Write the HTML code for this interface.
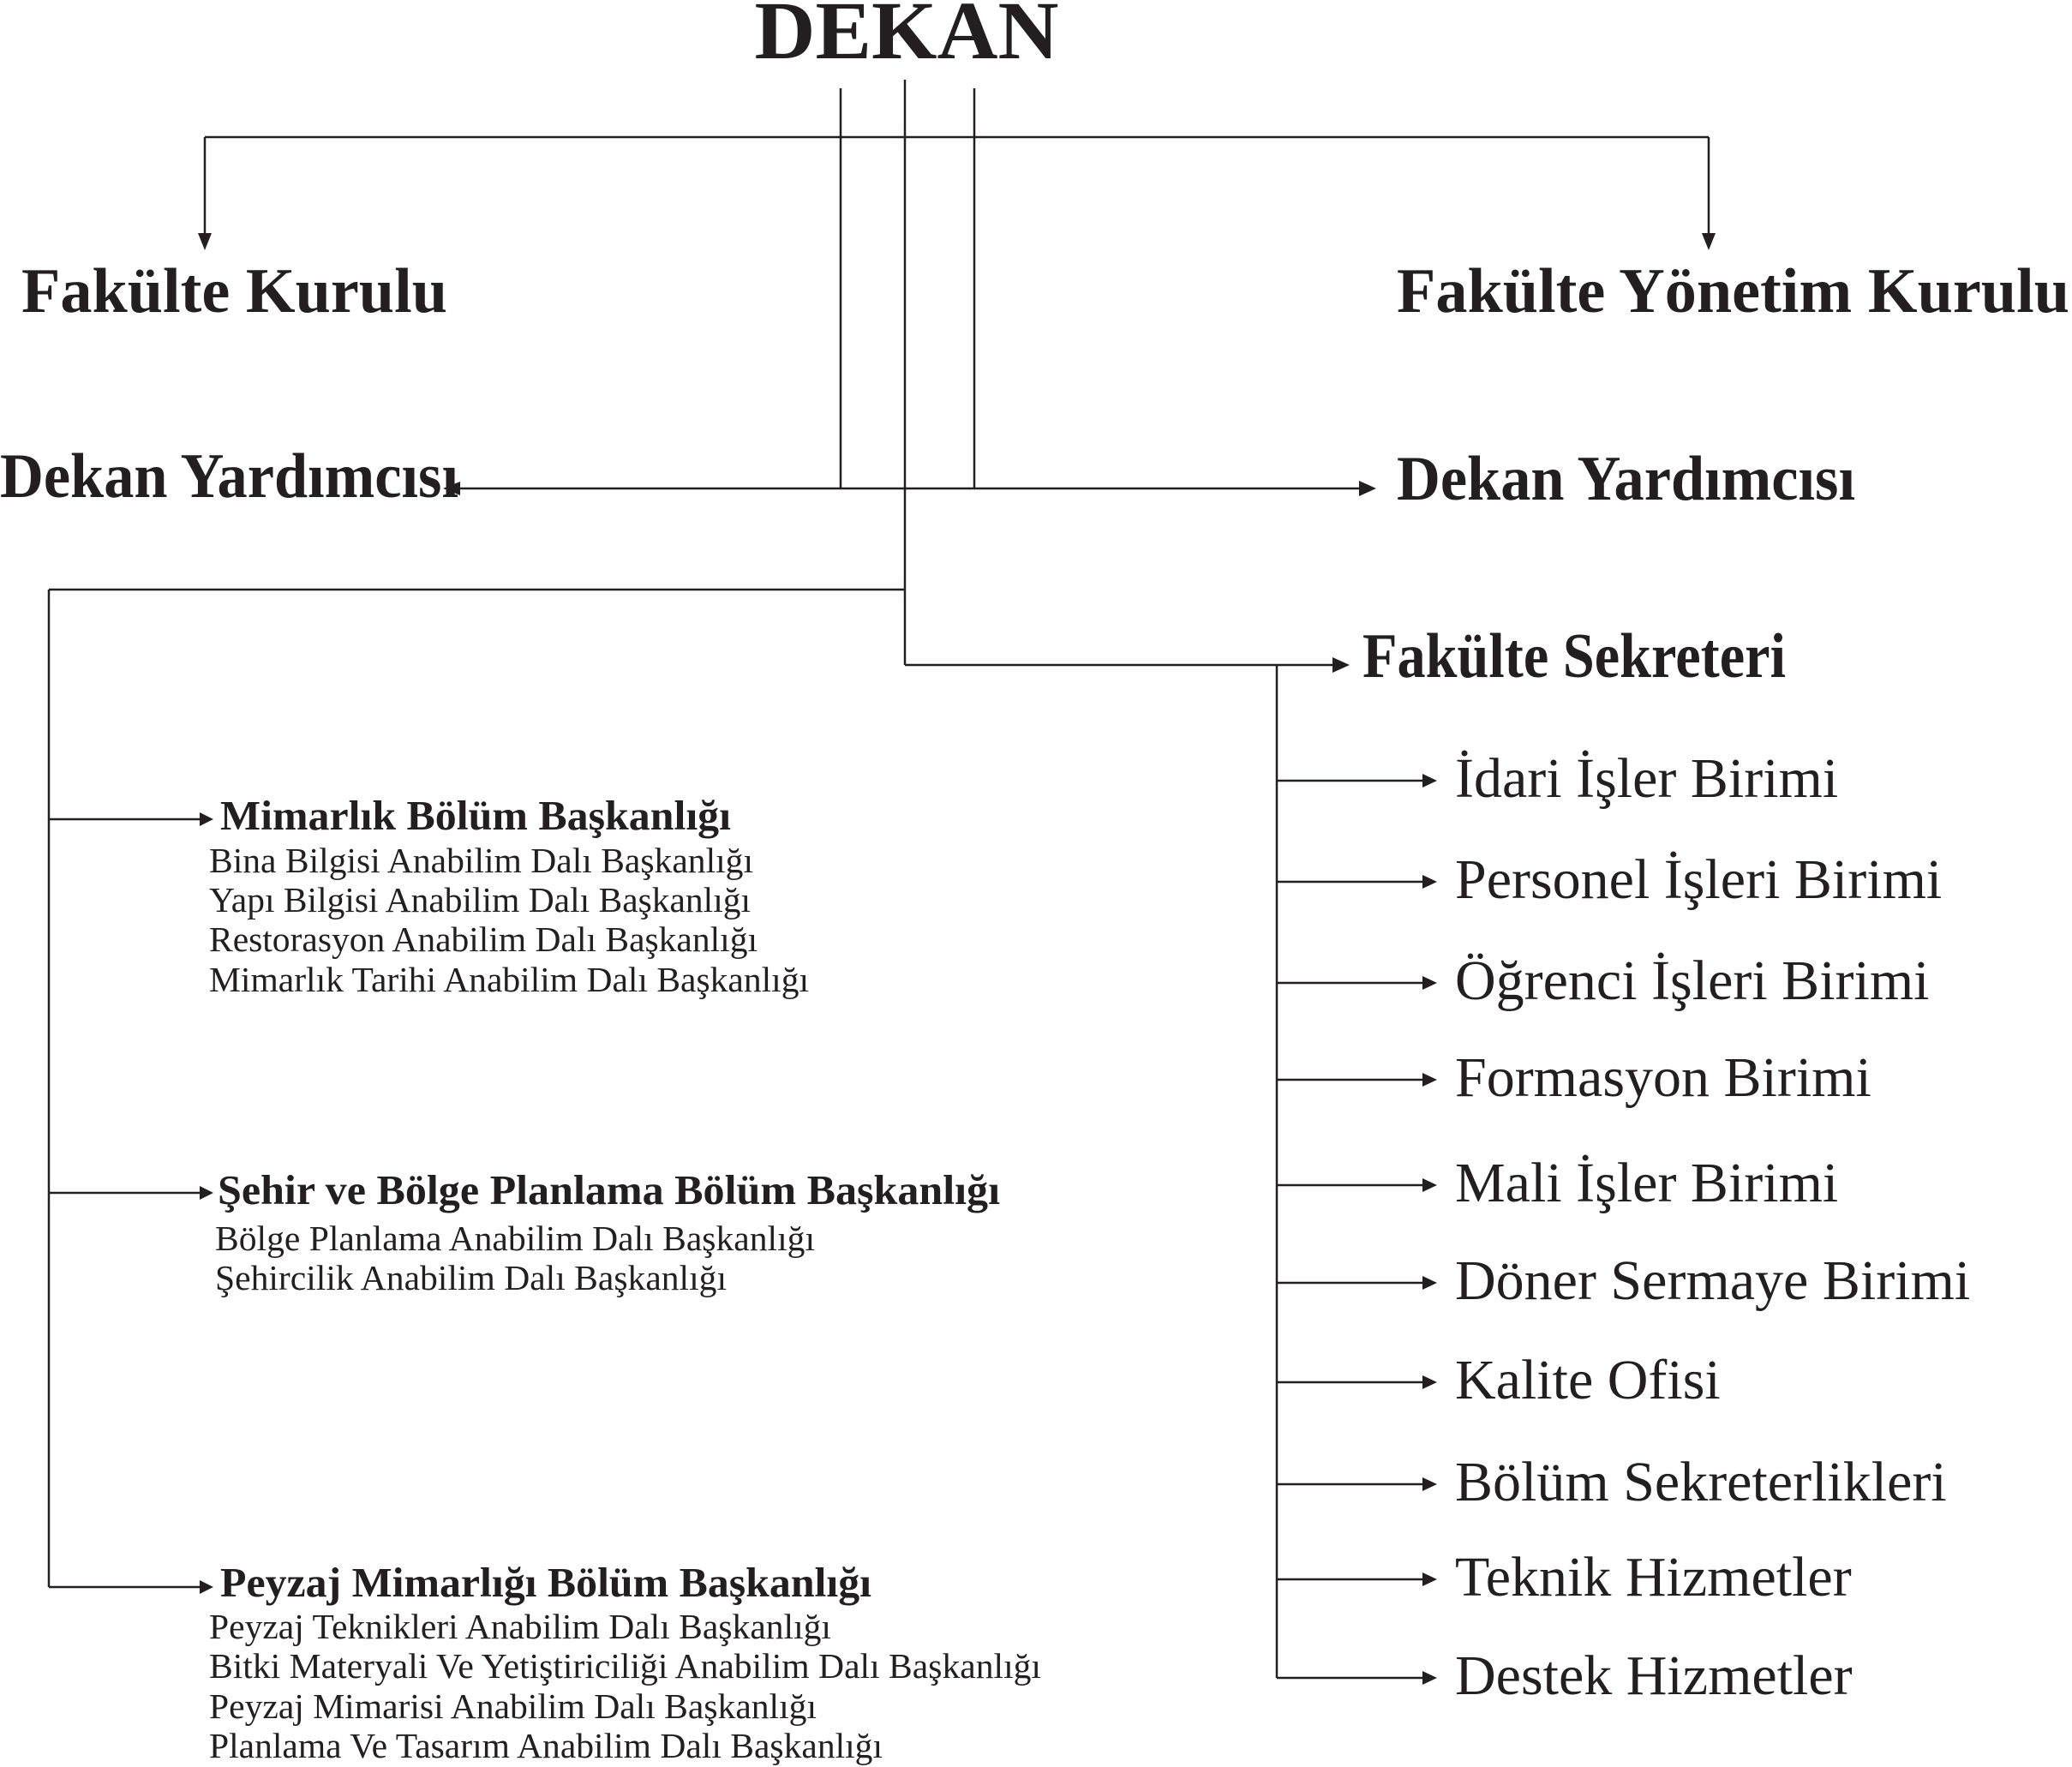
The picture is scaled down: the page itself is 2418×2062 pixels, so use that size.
<!DOCTYPE html>
<html><head><meta charset="utf-8"><style>
html,body{margin:0;padding:0;background:#fff}
svg{display:block}
text{font-family:"Liberation Serif",serif;fill:#231f20}
.b{font-weight:bold}
</style></head><body>
<svg width="2418" height="2062" viewBox="0 0 2418 2062" xmlns="http://www.w3.org/2000/svg">
<g stroke="#231f20" stroke-width="2.5" fill="none">
<line x1="981" y1="103" x2="981" y2="570"/>
<line x1="1056" y1="93" x2="1056" y2="776"/>
<line x1="1137" y1="103" x2="1137" y2="570"/>
<line x1="239" y1="160" x2="1994" y2="160"/>
<line x1="239" y1="160" x2="239" y2="275"/>
<line x1="1994" y1="160" x2="1994" y2="275"/>
<line x1="535" y1="570" x2="1590" y2="570"/>
<line x1="57" y1="688" x2="1056" y2="688"/>
<line x1="57" y1="688" x2="57" y2="1852"/>
<line x1="1056" y1="776" x2="1560" y2="776"/>
<line x1="1490" y1="776" x2="1490" y2="1958"/>
<line x1="57" y1="956" x2="235" y2="956"/>
<line x1="57" y1="1392" x2="235" y2="1392"/>
<line x1="57" y1="1852" x2="235" y2="1852"/>
<line x1="1490" y1="911" x2="1662" y2="911"/>
<line x1="1490" y1="1029" x2="1662" y2="1029"/>
<line x1="1490" y1="1147" x2="1662" y2="1147"/>
<line x1="1490" y1="1260" x2="1662" y2="1260"/>
<line x1="1490" y1="1383" x2="1662" y2="1383"/>
<line x1="1490" y1="1497" x2="1662" y2="1497"/>
<line x1="1490" y1="1613" x2="1662" y2="1613"/>
<line x1="1490" y1="1732" x2="1662" y2="1732"/>
<line x1="1490" y1="1843" x2="1662" y2="1843"/>
<line x1="1490" y1="1958" x2="1662" y2="1958"/>
</g>
<g fill="#231f20">
<polygon points="231,272 247,272 239,292"/>
<polygon points="1986,272 2002,272 1994,292"/>
<polygon points="517,570 537,562 537,578"/>
<polygon points="1606,570 1586,561 1586,579"/>
<polygon points="1575,776 1555,767 1555,785"/>
<polygon points="249,956 233,948 233,964"/>
<polygon points="249,1392 233,1384 233,1400"/>
<polygon points="249,1852 233,1844 233,1860"/>
<polygon points="1677,911 1660,903 1660,919"/>
<polygon points="1677,1029 1660,1021 1660,1037"/>
<polygon points="1677,1147 1660,1139 1660,1155"/>
<polygon points="1677,1260 1660,1252 1660,1268"/>
<polygon points="1677,1383 1660,1375 1660,1391"/>
<polygon points="1677,1497 1660,1489 1660,1505"/>
<polygon points="1677,1613 1660,1605 1660,1621"/>
<polygon points="1677,1732 1660,1724 1660,1740"/>
<polygon points="1677,1843 1660,1835 1660,1851"/>
<polygon points="1677,1958 1660,1950 1660,1966"/>
</g>
<text class="b" x="1058" y="68" font-size="96" text-anchor="middle" textLength="355" lengthAdjust="spacingAndGlyphs">DEKAN</text>
<text class="b" x="25" y="364" font-size="74" textLength="497" lengthAdjust="spacingAndGlyphs">Fakülte Kurulu</text>
<text class="b" x="1630" y="364" font-size="74" textLength="785" lengthAdjust="spacingAndGlyphs">Fakülte Yönetim Kurulu</text>
<text class="b" x="0" y="580" font-size="74" textLength="535" lengthAdjust="spacingAndGlyphs">Dekan Yardımcısı</text>
<text class="b" x="1630" y="583" font-size="74" textLength="535" lengthAdjust="spacingAndGlyphs">Dekan Yardımcısı</text>
<text class="b" x="1590" y="790" font-size="74" textLength="494" lengthAdjust="spacingAndGlyphs">Fakülte Sekreteri</text>
<g font-size="66">
<text x="1698" y="930">İdari İşler Birimi</text>
<text x="1698" y="1048">Personel İşleri Birimi</text>
<text x="1698" y="1166">Öğrenci İşleri Birimi</text>
<text x="1698" y="1279">Formasyon Birimi</text>
<text x="1698" y="1402">Mali İşler Birimi</text>
<text x="1698" y="1516">Döner Sermaye Birimi</text>
<text x="1698" y="1632">Kalite Ofisi</text>
<text x="1698" y="1751">Bölüm Sekreterlikleri</text>
<text x="1698" y="1862">Teknik Hizmetler</text>
<text x="1698" y="1977">Destek Hizmetler</text>
</g>
<g font-size="49">
<text class="b" x="257" y="968" textLength="596" lengthAdjust="spacingAndGlyphs">Mimarlık Bölüm Başkanlığı</text>
<text class="b" x="254" y="1405" textLength="913" lengthAdjust="spacingAndGlyphs">Şehir ve Bölge Planlama Bölüm Başkanlığı</text>
<text class="b" x="257" y="1863" textLength="760" lengthAdjust="spacingAndGlyphs">Peyzaj Mimarlığı Bölüm Başkanlığı</text>
</g>
<g font-size="41">
<text x="244" y="1018" textLength="635" lengthAdjust="spacingAndGlyphs">Bina Bilgisi Anabilim Dalı Başkanlığı</text>
<text x="244" y="1064" textLength="632" lengthAdjust="spacingAndGlyphs">Yapı Bilgisi Anabilim Dalı Başkanlığı</text>
<text x="244" y="1110" textLength="640" lengthAdjust="spacingAndGlyphs">Restorasyon Anabilim Dalı Başkanlığı</text>
<text x="244" y="1157" textLength="700" lengthAdjust="spacingAndGlyphs">Mimarlık Tarihi Anabilim Dalı Başkanlığı</text>
<text x="251" y="1459" textLength="700" lengthAdjust="spacingAndGlyphs">Bölge Planlama Anabilim Dalı Başkanlığı</text>
<text x="251" y="1505" textLength="597" lengthAdjust="spacingAndGlyphs">Şehircilik Anabilim Dalı Başkanlığı</text>
<text x="244" y="1912" textLength="726" lengthAdjust="spacingAndGlyphs">Peyzaj Teknikleri Anabilim Dalı Başkanlığı</text>
<text x="244" y="1958" textLength="971" lengthAdjust="spacingAndGlyphs">Bitki Materyali Ve Yetiştiriciliği Anabilim Dalı Başkanlığı</text>
<text x="244" y="2005" textLength="709" lengthAdjust="spacingAndGlyphs">Peyzaj Mimarisi Anabilim Dalı Başkanlığı</text>
<text x="244" y="2051" textLength="786" lengthAdjust="spacingAndGlyphs">Planlama Ve Tasarım Anabilim Dalı Başkanlığı</text>
</g>
</svg>
</body></html>
